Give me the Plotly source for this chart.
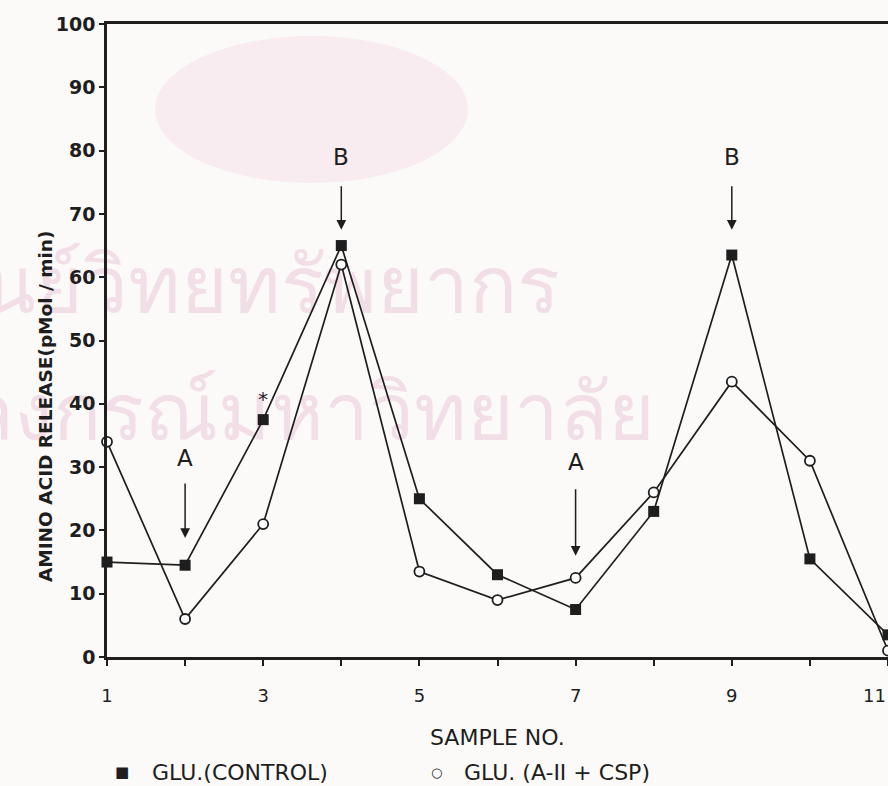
import plotly.graph_objects as go

samples = [1, 2, 3, 4, 5, 6, 7, 8, 9, 10, 11]
control = [15, 14.5, 37.5, 65, 25, 13, 7.5, 23, 63.5, 15.5, 3.5]
treated = [34, 6, 21, 62, 13.5, 9, 12.5, 26, 43.5, 31, 1]

x_labeled = [1, 3, 5, 7, 9]
x_edge_label = 11
y_tickvals = [0, 10, 20, 30, 40, 50, 60, 70, 80, 90, 100]

legend_names = ["GLU.(CONTROL)", "GLU. (A-II + CSP)"]
watermark = ["ศูนย์วิทยทรัพยากร", "จุฬาลงกรณ์มหาวิทยาลัย"]

INK = "#1e1e1e"
BG = "#fbfaf8"
fig = go.Figure()

# faint watermark (decoration, drawn beneath the data)
fig.add_shape(type="circle", xref="paper", yref="paper",
              x0=(155 - 107) / 781, x1=(468 - 107) / 781,
              y0=(657 - 183) / 633, y1=(657 - 36) / 633,
              fillcolor="#f8ecf1", line=dict(width=0), layer="below")
fig.add_trace(go.Scatter(
    x=[6.8, 8.02], y=[57.5, 37.5], mode="text", textposition="middle left",
    text=watermark,
    textfont=dict(size=80, color="#f2dee7", family="Noto Sans, DejaVu Sans"),
    hoverinfo="skip", showlegend=False, cliponaxis=False))

fig.add_trace(go.Scatter(
    x=samples, y=treated, mode="lines+markers", name=legend_names[1],
    line=dict(color=INK, width=1.7),
    marker=dict(symbol="circle", size=10, color="white", line=dict(color=INK, width=1.8)),
    showlegend=False, cliponaxis=False))
fig.add_trace(go.Scatter(
    x=samples, y=control, mode="lines+markers", name=legend_names[0],
    line=dict(color=INK, width=1.7),
    marker=dict(symbol="square", size=11, color=INK),
    showlegend=False, cliponaxis=False))

ann = []
def letter(xv, yv, t, size=23):
    ann.append(dict(x=xv, y=yv, text=t, showarrow=False, xref="x", yref="y",
                    font=dict(size=size, color=INK, family="DejaVu Sans")))
def arrow(xv, ytip, length):
    ann.append(dict(x=xv, y=ytip, ax=0, ay=-length, text="", showarrow=True,
                    arrowhead=2, arrowsize=1.3, arrowwidth=1.5, arrowcolor=INK,
                    xref="x", yref="y"))

letter(2, 31.5, "A"); arrow(2, 18.8, 56)
letter(7, 30.8, "A"); arrow(7, 16.0, 68)
letter(4, 79.0, "B"); arrow(4, 67.5, 45)
letter(9, 79.0, "B"); arrow(9, 67.5, 45)
letter(3, 40.8, "*", size=20)

# last x tick label sits at the page edge
ann.append(dict(x=x_edge_label, y=(657 - 695) / 633, xref="x", yref="paper",
                text=str(x_edge_label), showarrow=False, xanchor="right", yanchor="middle",
                font=dict(size=18, color=INK, family="DejaVu Sans")))

# axis titles placed like the reference
ann.append(dict(x=0.5, y=(657 - 738) / 633, xref="paper", yref="paper",
                text="SAMPLE NO.", showarrow=False, yanchor="middle",
                font=dict(size=22, color=INK, family="DejaVu Sans")))
ann.append(dict(x=(45 - 107) / 781, y=(657 - 407) / 633, xref="paper", yref="paper",
                text="AMINO ACID RELEASE(pMol / min)", showarrow=False, textangle=-90,
                xanchor="center", yanchor="middle",
                font=dict(size=18.5, color=INK, family="DejaVu Sans", weight="bold")))

# key below the chart (marker glyph + label, as in the reference)
ly = (657 - 772) / 633
def key(xpx, text, size, anchor="center", weight="normal"):
    ann.append(dict(x=(xpx - 107) / 781, y=ly, xref="paper", yref="paper", text=text,
                    showarrow=False, xanchor=anchor, yanchor="middle",
                    font=dict(size=size, color=INK, family="DejaVu Sans", weight=weight)))
key(122, "■", 15)
key(150, legend_names[0], 22, "left")
key(436, "○", 13, weight="bold")
key(462, legend_names[1], 22, "left")

fig.update_layout(
    width=888, height=786,
    margin=dict(l=107, r=0, t=24, b=129),
    paper_bgcolor=BG, plot_bgcolor="rgba(0,0,0,0)",
    annotations=ann,
    showlegend=False,
    xaxis=dict(range=[1, 11], tickvals=samples,
               ticktext=[str(s) if s in x_labeled else "" for s in samples],
               showgrid=False, zeroline=False, showline=True, linewidth=2.5, linecolor=INK,
               mirror=True, ticks="outside", ticklen=6, tickwidth=1.5, tickcolor=INK,
               ticklabelstandoff=15, automargin=False,
               tickfont=dict(size=18, color=INK, family="DejaVu Sans")),
    yaxis=dict(range=[0, 100], tickvals=y_tickvals,
               showgrid=False, zeroline=False, showline=True, linewidth=2.5, linecolor=INK,
               mirror=True, ticks="outside", ticklen=5, tickwidth=1.5, tickcolor=INK,
               automargin=False,
               tickfont=dict(size=19, color=INK, family="DejaVu Sans", weight="bold")),
)

fig.write_html("out.html")
